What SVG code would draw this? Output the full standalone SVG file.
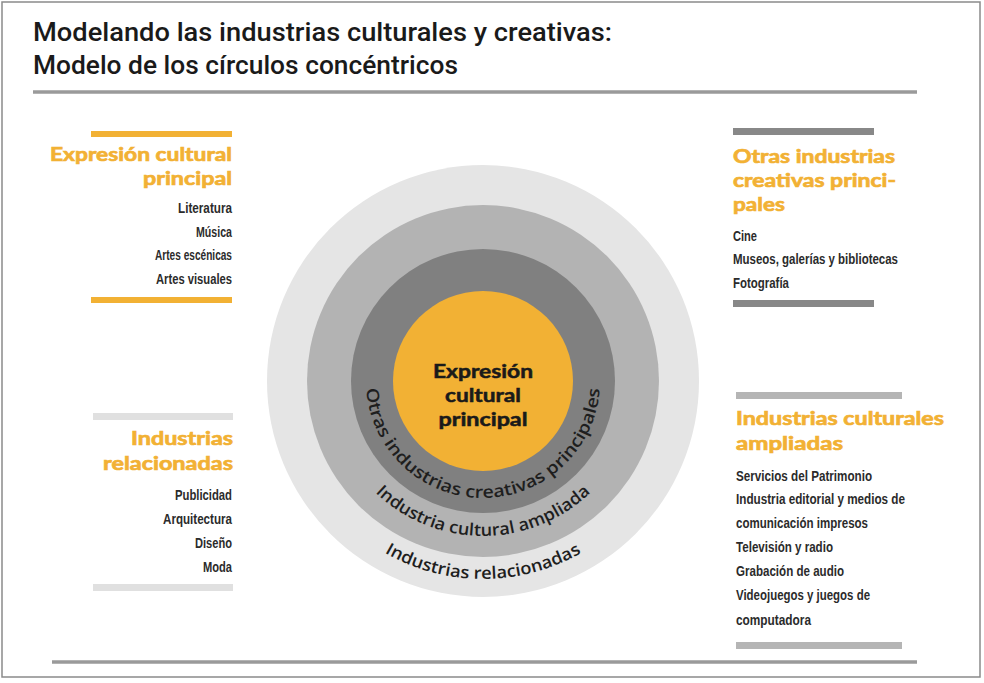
<svg xmlns="http://www.w3.org/2000/svg" width="984" height="683" viewBox="0 0 984 683">
<style>
.title{font-family:Roboto,"Liberation Sans",sans-serif;font-weight:500;font-size:25px;fill:#1a1a1a}
.head{font-family:Lato,"Liberation Sans",sans-serif;font-weight:700;font-size:19px;fill:#f2b134;stroke:#f2b134;stroke-width:0.7}
.item{font-family:"Liberation Sans",Arial,sans-serif;font-weight:700;font-size:15px;fill:#2b2b2b}
.r{text-anchor:end}
.center{font-family:Lato,"Liberation Sans",sans-serif;font-weight:700;font-size:18px;fill:#1a1a1a;stroke:#1a1a1a;stroke-width:0.5;text-anchor:middle}
.ring{font-family:"Open Sans","Noto Sans",sans-serif;font-weight:600;font-size:17px;fill:#1e1e1e}
.rule{stroke:#9a9a9a;stroke-width:3.5}
</style>
<defs>
<path id="p1" d="M 366 381 A 117 117 0 0 0 600 381"/>
<path id="p2" d="M 328 381 A 155 155 0 0 0 638 381"/>
<path id="p3" d="M 285 381 A 198 198 0 0 0 681 381"/>
</defs>
<rect x="2" y="2" width="978" height="675" fill="#ffffff" stroke="#8a8a8a" stroke-width="1.5"/>
<g id="title">
<text class="title" x="33" y="41" textLength="579" lengthAdjust="spacingAndGlyphs">Modelando las industrias culturales y creativas:</text>
<text class="title" x="33" y="74" textLength="425" lengthAdjust="spacingAndGlyphs">Modelo de los círculos concéntricos</text>
<line class="rule" x1="33" y1="92" x2="917" y2="92"/>
</g>
<line class="rule" x1="52" y1="662" x2="917" y2="662"/>
<g id="circles">
<circle cx="483" cy="381" r="216" fill="#e5e5e5"/>
<circle cx="483" cy="381" r="176" fill="#b3b3b3"/>
<circle cx="483" cy="381" r="132" fill="#808080"/>
<circle cx="483" cy="381" r="90" fill="#f2b134"/>
<text class="center" x="483" y="378" textLength="100" lengthAdjust="spacingAndGlyphs">Expresión</text>
<text class="center" x="483" y="402" textLength="76" lengthAdjust="spacingAndGlyphs">cultural</text>
<text class="center" x="483" y="426" textLength="89" lengthAdjust="spacingAndGlyphs">principal</text>
<text class="ring"><textPath href="#p1" startOffset="50%" text-anchor="middle" textLength="352" lengthAdjust="spacingAndGlyphs">Otras industrias creativas principales</textPath></text>
<text class="ring"><textPath href="#p2" startOffset="50%" text-anchor="middle" textLength="238" lengthAdjust="spacingAndGlyphs">Industria cultural ampliada</textPath></text>
<text class="ring"><textPath href="#p3" startOffset="50%" text-anchor="middle" textLength="206" lengthAdjust="spacingAndGlyphs">Industrias relacionadas</textPath></text>
</g>
<g id="expresion-cultural">
<rect x="91" y="131" width="141" height="6" fill="#f2b134"/>
<text class="head r" x="232" y="161" textLength="182" lengthAdjust="spacingAndGlyphs">Expresión cultural</text>
<text class="head r" x="232" y="185" textLength="89" lengthAdjust="spacingAndGlyphs">principal</text>
<text class="item r" x="232" y="213" textLength="54" lengthAdjust="spacingAndGlyphs">Literatura</text>
<text class="item r" x="232" y="237" textLength="36" lengthAdjust="spacingAndGlyphs">Música</text>
<text class="item r" x="232" y="260" textLength="77" lengthAdjust="spacingAndGlyphs">Artes escénicas</text>
<text class="item r" x="232" y="284" textLength="76" lengthAdjust="spacingAndGlyphs">Artes visuales</text>
<rect x="91" y="297" width="141" height="6" fill="#f2b134"/>
</g>
<g id="otras-industrias">
<rect x="733" y="128" width="141" height="7" fill="#888888"/>
<text class="head" x="733" y="163" textLength="162" lengthAdjust="spacingAndGlyphs">Otras industrias</text>
<text class="head" x="733" y="187" textLength="163" lengthAdjust="spacingAndGlyphs">creativas princi-</text>
<text class="head" x="733" y="211" textLength="52" lengthAdjust="spacingAndGlyphs">pales</text>
<text class="item" x="733" y="241" textLength="24" lengthAdjust="spacingAndGlyphs">Cine</text>
<text class="item" x="733" y="264" textLength="165" lengthAdjust="spacingAndGlyphs">Museos, galerías y bibliotecas</text>
<text class="item" x="733" y="288" textLength="56" lengthAdjust="spacingAndGlyphs">Fotografía</text>
<rect x="733" y="300" width="141" height="7" fill="#888888"/>
</g>
<g id="industrias-relacionadas">
<rect x="93" y="413" width="140" height="7" fill="#e0e0e0"/>
<text class="head r" x="233" y="445" textLength="102" lengthAdjust="spacingAndGlyphs">Industrias</text>
<text class="head r" x="233" y="470" textLength="130" lengthAdjust="spacingAndGlyphs">relacionadas</text>
<text class="item r" x="232" y="500" textLength="57" lengthAdjust="spacingAndGlyphs">Publicidad</text>
<text class="item r" x="232" y="524" textLength="69" lengthAdjust="spacingAndGlyphs">Arquitectura</text>
<text class="item r" x="232" y="548" textLength="37" lengthAdjust="spacingAndGlyphs">Diseño</text>
<text class="item r" x="232" y="572" textLength="29" lengthAdjust="spacingAndGlyphs">Moda</text>
<rect x="93" y="584" width="140" height="7" fill="#e0e0e0"/>
</g>
<g id="industrias-culturales-ampliadas">
<rect x="736" y="392" width="166" height="7" fill="#b5b5b5"/>
<text class="head" x="736" y="425" textLength="208" lengthAdjust="spacingAndGlyphs">Industrias culturales</text>
<text class="head" x="736" y="450" textLength="107" lengthAdjust="spacingAndGlyphs">ampliadas</text>
<text class="item" x="736" y="481" textLength="136" lengthAdjust="spacingAndGlyphs">Servicios del Patrimonio</text>
<text class="item" x="736" y="504" textLength="169" lengthAdjust="spacingAndGlyphs">Industria editorial y medios de</text>
<text class="item" x="736" y="528" textLength="132" lengthAdjust="spacingAndGlyphs">comunicación impresos</text>
<text class="item" x="736" y="552" textLength="97" lengthAdjust="spacingAndGlyphs">Televisión y radio</text>
<text class="item" x="736" y="576" textLength="108" lengthAdjust="spacingAndGlyphs">Grabación de audio</text>
<text class="item" x="736" y="600" textLength="134" lengthAdjust="spacingAndGlyphs">Videojuegos y juegos de</text>
<text class="item" x="736" y="625" textLength="75" lengthAdjust="spacingAndGlyphs">computadora</text>
<rect x="736" y="642" width="166" height="7" fill="#b5b5b5"/>
</g>
</svg>
